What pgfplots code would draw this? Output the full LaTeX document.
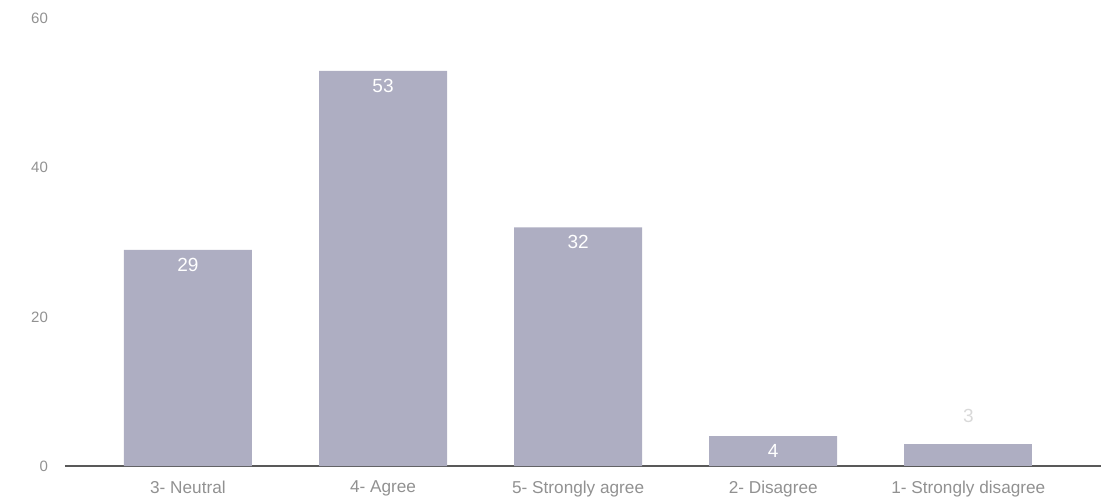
\documentclass[border=0pt]{standalone}
\usepackage{pgfplots}
\pgfplotsset{compat=1.18}
\usepackage{fontspec}
\setmainfont{Liberation Sans}
\definecolor{barc}{RGB}{174,174,194}
\definecolor{tickc}{RGB}{145,145,145}
\begin{document}
\begin{tikzpicture}
\useasboundingbox (-32.5pt,-17pt) rectangle (518pt,233pt);
\begin{axis}[
  at={(0pt,0pt)}, anchor=south west,
  scale only axis, width=518pt, height=233pt,
  xmin=-0.63, xmax=4.68, ymin=0, ymax=62.5,
  separate axis lines,
  axis x line*=bottom, axis y line*=left,
  y axis line style={draw=none},
  x axis line style={draw=black!65, line width=0.8pt, -},
  major tick length=0pt,
  ytick={0,20,40,60},
  xtick={0,1,2,3,4},
  xticklabels={3- Neutral, 4- Agree, 5- Strongly agree, 2- Disagree, 1- Strongly disagree},
  /pgf/number format/assume math mode=true,
  yticklabel style={font=\fontsize{7.5}{8}\selectfont, text=tickc, xshift=-5pt},
  xticklabel style={font=\fontsize{8.6}{9}\selectfont, text=tickc, yshift=-4pt},
  bar shift=0pt,
  clip=false,
]
\addplot[ybar, fill=barc, draw=none, bar width=0.656,
  nodes near coords,
  every node near coord/.append style={anchor=north, text=white, font=\fontsize{9.5}{10}\selectfont, yshift=-0.5pt}]
  coordinates {(0,29) (1,53) (2,32) (3,4)};
\addplot[ybar, fill=barc, draw=none, bar width=0.656,
  nodes near coords,
  every node near coord/.append style={anchor=south, text=black!15, font=\fontsize{9.5}{10}\selectfont, yshift=7pt}]
  coordinates {(4,3)};
\end{axis}
\end{tikzpicture}
\end{document}
